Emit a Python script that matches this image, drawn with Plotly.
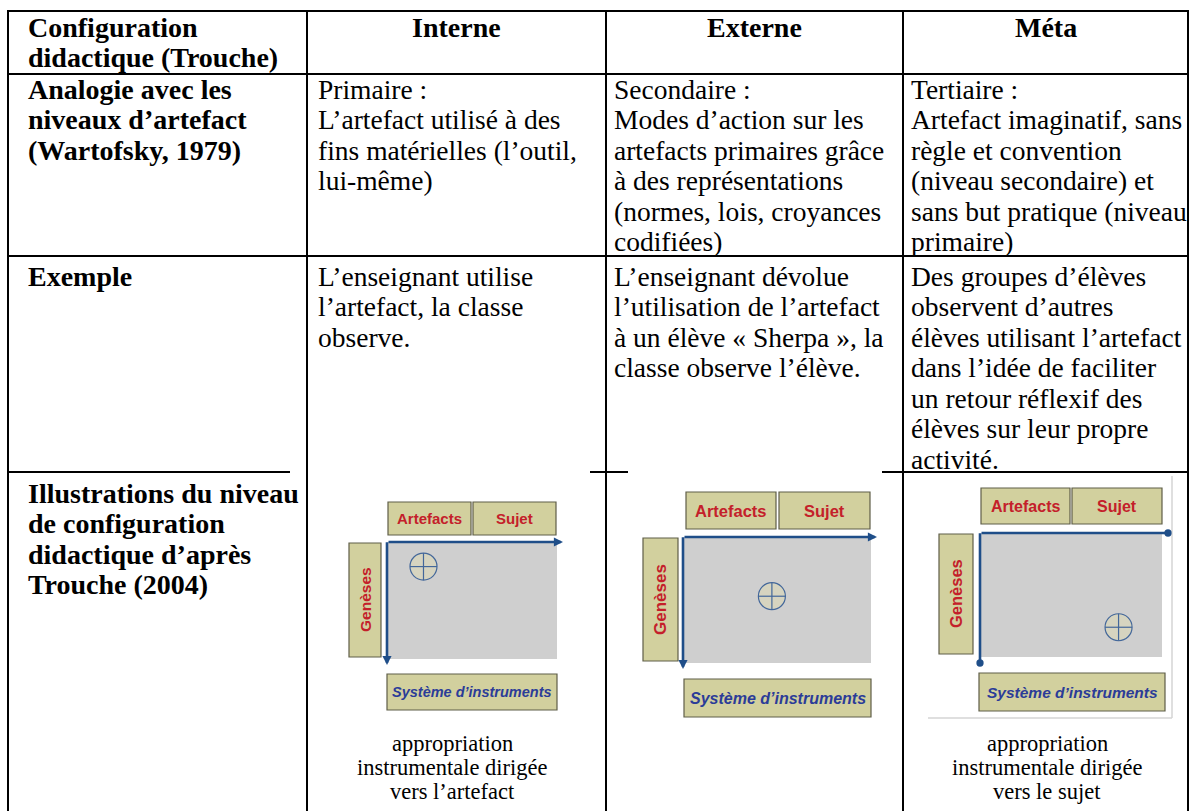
import plotly.graph_objects as go

W, H = 1189, 811

# ---------------- content ----------------
colonnes = ["Interne", "Externe", "Méta"]
titres_lignes = [
    ["Configuration", "didactique (Trouche)"],
    ["Analogie avec les", "niveaux d’artefact", "(Wartofsky, 1979)"],
    ["Exemple"],
    ["Illustrations du niveau", "de configuration", "didactique d’après", "Trouche (2004)"],
]
niveaux_artefact = [
    ["Primaire :", "L’artefact utilisé à des", "fins matérielles (l’outil,", "lui-même)"],
    ["Secondaire :", "Modes d’action sur les", "artefacts primaires grâce",
     "à des représentations", "(normes, lois, croyances", "codifiées)"],
    ["Tertiaire :", "Artefact imaginatif, sans", "règle et convention",
     "(niveau secondaire) et", "sans but pratique (niveau", "primaire)"],
]
exemples = [
    ["L’enseignant utilise", "l’artefact, la classe", "observe."],
    ["L’enseignant dévolue", "l’utilisation de l’artefact",
     "à un élève « Sherpa », la", "classe observe l’élève."],
    ["Des groupes d’élèves", "observent d’autres", "élèves utilisant l’artefact",
     "dans l’idée de faciliter", "un retour réflexif des", "élèves sur leur propre", "activité."],
]
legendes = [
    ["appropriation", "instrumentale dirigée", "vers l’artefact"],
    [],
    ["appropriation", "instrumentale dirigée", "vers le sujet"],
]
etiquettes_schema = ["Artefacts", "Sujet", "Genèses", "Système d’instruments"]
position_cible = [0.21, 0.47, 0.76]   # relative position of the crosshair in the grey area

# ---------------- layout (pixels) ----------------
col_x = [8, 307, 606, 903, 1188]
row_y = [11, 74, 256, 472, 811]
first_line = [27, 89, 276, 493]
LINE = 30.5
PADS = [9, 6, 6]
TITLE_X = 26
SERIF = "Liberation Serif"
SANS = "Liberation Sans"
FS = 27.5
FS_BOLD = 28

schemas = [
    dict(art=(388, 502, 471, 535), suj=(473, 502, 556, 535), gris=(388, 542, 557, 659),
         gen=(349, 543, 381, 657), sys=(387, 674, 557, 710), fs=15, head=2),
    dict(art=(686, 492, 776, 529), suj=(779, 492, 870, 529), gris=(684, 537, 871, 663),
         gen=(643, 538, 678, 661), sys=(684, 679, 871, 717), fs=16.5, head=2),
    dict(art=(981, 488, 1070, 524), suj=(1072, 488, 1162, 524), gris=(981, 533, 1162, 657),
         gen=(939, 534, 973, 654), sys=(979, 673, 1165, 711), fs=16, head=6),
]
legend_y = [743, 767, 791]
legend_cx = [452, None, 1047]
gaps_row3 = [(290, 590), (628, 882)]

fig = go.Figure()
shapes = []
ann = []

def line(x0, y0, x1, y1, color="black", width=2):
    shapes.append(dict(type="line", x0=x0, y0=y0, x1=x1, y1=y1, xref="x", yref="y",
                       line=dict(color=color, width=width)))

def rect(b, fill, color, width=1):
    shapes.append(dict(type="rect", x0=b[0], y0=b[1], x1=b[2], y1=b[3], xref="x", yref="y",
                       fillcolor=fill, line=dict(color=color, width=width), layer="above"))

def text(x, y, s, size=FS, bold=False, anchor="left", family=SERIF, color="black",
         italic=False, angle=0):
    ann.append(dict(x=x, y=y, xref="x", yref="y", text=s, showarrow=False,
                    xanchor=anchor, yanchor="middle", textangle=angle,
                    font=dict(family=family, size=size, color=color,
                              weight="bold" if bold else "normal",
                              style="italic" if italic else "normal")))

# table grid
for x in col_x:
    line(x, row_y[0] - 1, x, H)
for i, y in enumerate(row_y[:-1]):
    if i == 3:
        segs = []
        start = col_x[0] - 1
        for g0, g1 in gaps_row3:
            segs.append((start, g0))
            start = g1
        segs.append((start, col_x[-1] + 1))
        for a, b in segs:
            line(a, y, b, y)
    else:
        line(col_x[0] - 1, y, col_x[-1] + 1, y)

# row titles
for r, lines_ in enumerate(titres_lignes):
    for i, s in enumerate(lines_):
        text(TITLE_X, first_line[r] + i * LINE, s, size=FS_BOLD, bold=True)

# column headers
for c, s in enumerate(colonnes):
    text((col_x[c + 1] + col_x[c + 2]) / 2, first_line[0], s, size=FS_BOLD, bold=True,
         anchor="center")

# row 2 and 3 cells
for r, data in ((1, niveaux_artefact), (2, exemples)):
    for c, lines_ in enumerate(data):
        for i, s in enumerate(lines_):
            text(col_x[c + 1] + PADS[c], first_line[r] + i * LINE, s)

# diagrams
BEIGE = "#D2D09E"
EDGE = "#5F5E48"
GRIS = "#CFCFCF"
BLEU = "#1F4E89"
ROUGE = "#C4202A"
BLEU_TXT = "#2B3C98"

# frame of third picture
line(1172, 476, 1172, 718, color="#D4D4D4", width=1.5)
line(928, 718, 1172, 718, color="#D4D4D4", width=1.5)

for k, sc in enumerate(schemas):
    g = sc["gris"]
    rect(g, GRIS, GRIS, 0)
    rect(sc["art"], BEIGE, EDGE, 1.2)
    rect(sc["suj"], BEIGE, EDGE, 1.2)
    rect(sc["gen"], BEIGE, EDGE, 1.2)
    rect(sc["sys"], BEIGE, EDGE, 1.2)
    a, s_, gn, sy = sc["art"], sc["suj"], sc["gen"], sc["sys"]
    text((a[0] + a[2]) / 2, (a[1] + a[3]) / 2, etiquettes_schema[0], size=sc["fs"],
         bold=True, anchor="center", family=SANS, color=ROUGE)
    text((s_[0] + s_[2]) / 2, (s_[1] + s_[3]) / 2, etiquettes_schema[1], size=sc["fs"],
         bold=True, anchor="center", family=SANS, color=ROUGE)
    text((gn[0] + gn[2]) / 2, (gn[1] + gn[3]) / 2, etiquettes_schema[2], size=sc["fs"] + 0.5,
         bold=True, anchor="center", family=SANS, color=ROUGE, angle=-90)
    text((sy[0] + sy[2]) / 2, (sy[1] + sy[3]) / 2, etiquettes_schema[3], size=sc["fs"] - 0.5,
         bold=True, italic=True, anchor="center", family=SANS, color=BLEU_TXT)
    # axes with arrows
    ox, oy = g[0] - 1, g[1]
    ann.append(dict(x=g[2] + 6, y=oy, ax=ox, ay=oy, xref="x", yref="y", axref="x", ayref="y",
                    text="", showarrow=True, arrowhead=sc["head"], arrowsize=0.7,
                    arrowwidth=2.6, arrowcolor=BLEU, standoff=0, startstandoff=0))
    ann.append(dict(x=ox, y=g[3] + 6, ax=ox, ay=oy - 1.3, xref="x", yref="y", axref="x", ayref="y",
                    text="", showarrow=True, arrowhead=sc["head"], arrowsize=0.7,
                    arrowwidth=2.6, arrowcolor=BLEU, standoff=0, startstandoff=0))
    # crosshair
    p = position_cible[k]
    cx = g[0] + p * (g[2] - g[0])
    cy = g[1] + p * (g[3] - g[1])
    r = 13.5
    shapes.append(dict(type="circle", x0=cx - r, y0=cy - r, x1=cx + r, y1=cy + r,
                       xref="x", yref="y", fillcolor="#D6D4C0",
                       line=dict(color="#43679A", width=1.2), layer="above"))
    shapes.append(dict(type="line", x0=cx - r, y0=cy, x1=cx + r, y1=cy, xref="x", yref="y",
                       line=dict(color="#43679A", width=1.2), layer="above"))
    shapes.append(dict(type="line", x0=cx, y0=cy - r, x1=cx, y1=cy + r, xref="x", yref="y",
                       line=dict(color="#43679A", width=1.2), layer="above"))

# captions under pictures
for c, lines_ in enumerate(legendes):
    for i, s in enumerate(lines_):
        text(legend_cx[c], legend_y[i], s, size=22.5, anchor="center")

fig.update_layout(
    width=W, height=H,
    margin=dict(l=0, r=0, t=0, b=0),
    paper_bgcolor="white", plot_bgcolor="white",
    xaxis=dict(range=[0, W], visible=False, fixedrange=True),
    yaxis=dict(range=[H, 0], visible=False, fixedrange=True),
    shapes=shapes, annotations=ann, showlegend=False,
)

fig.write_html("out.html", config={"displayModeBar": False},
               post_script="document.body.style.margin='0px';document.body.style.overflow='hidden';")
